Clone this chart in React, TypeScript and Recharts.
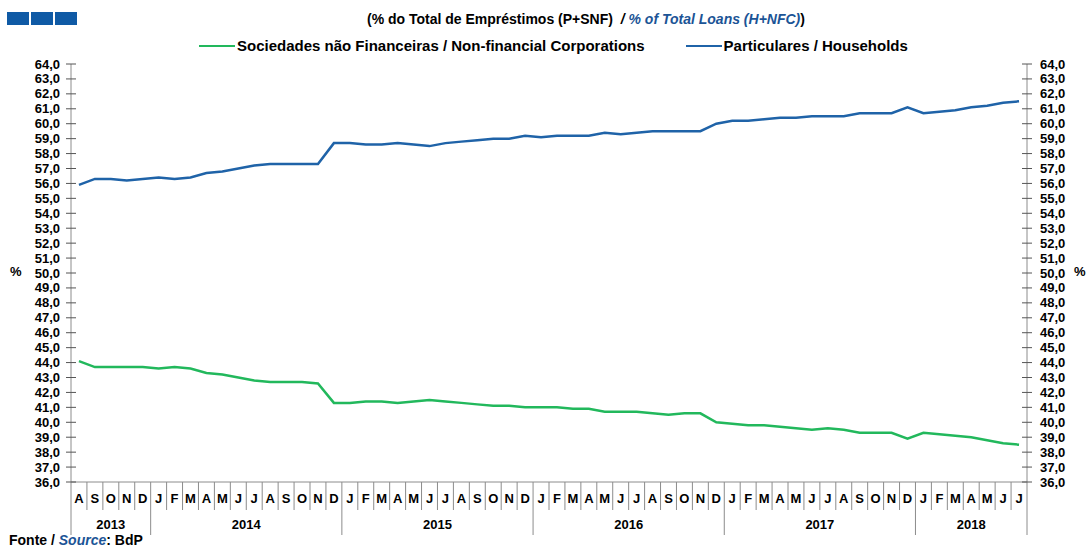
import { Line, LineChart, XAxis, YAxis } from "recharts"

// months on the axis, grouped by calendar year (Aug 2013 – Jul 2018)
const YEARS = ["2013", "2014", "2015", "2016", "2017", "2018"]
const MONTH_INITIALS = ["J", "F", "M", "A", "M", "J", "J", "A", "S", "O", "N", "D"]
const FIRST_MONTH = [7, 0, 0, 0, 0, 0]
const MONTH_COUNT = [5, 12, 12, 12, 12, 7]

// Particulares / Households (% of total loans)
const HOUSEHOLDS = [
  55.9, 56.3, 56.3, 56.2, 56.3,
  56.4, 56.3, 56.4, 56.7, 56.8, 57.0, 57.2, 57.3, 57.3, 57.3, 57.3, 58.7,
  58.7, 58.6, 58.6, 58.7, 58.6, 58.5, 58.7, 58.8, 58.9, 59.0, 59.0, 59.2,
  59.1, 59.2, 59.2, 59.2, 59.4, 59.3, 59.4, 59.5, 59.5, 59.5, 59.5, 60.0,
  60.2, 60.2, 60.3, 60.4, 60.4, 60.5, 60.5, 60.5, 60.7, 60.7, 60.7, 61.1,
  60.7, 60.8, 60.9, 61.1, 61.2, 61.4, 61.5,
]

// Sociedades não Financeiras / Non-financial Corporations
const NFC = [
  44.1, 43.7, 43.7, 43.7, 43.7,
  43.6, 43.7, 43.6, 43.3, 43.2, 43.0, 42.8, 42.7, 42.7, 42.7, 42.6, 41.3,
  41.3, 41.4, 41.4, 41.3, 41.4, 41.5, 41.4, 41.3, 41.2, 41.1, 41.1, 41.0,
  41.0, 41.0, 40.9, 40.9, 40.7, 40.7, 40.7, 40.6, 40.5, 40.6, 40.6, 40.0,
  39.9, 39.8, 39.8, 39.7, 39.6, 39.5, 39.6, 39.5, 39.3, 39.3, 39.3, 38.9,
  39.3, 39.2, 39.1, 39.0, 38.8, 38.6, 38.5,
]

const Y_TICKS = [
  36, 37, 38, 39, 40, 41, 42, 43, 44, 45, 46, 47, 48, 49, 50,
  51, 52, 53, 54, 55, 56, 57, 58, 59, 60, 61, 62, 63, 64,
]

const FONT = "'Liberation Sans', Arial, Helvetica, sans-serif"
const AXIS = "#8c8c8c"
const BLUE = "#1f63a8"
const GREEN = "#22b85c"
const DARK_BLUE = "#1b5496"

type Row = {
  period: string
  month: string
  year: string
  firstOfYear: boolean
  yearLen: number
  households: number
  nfc: number
}

const rows: Row[] = []
YEARS.forEach((year, yi) => {
  for (let k = 0; k < MONTH_COUNT[yi]; k++) {
    const m = FIRST_MONTH[yi] + k
    const i = rows.length
    rows.push({
      period: `${year}-${m + 1}`,
      month: MONTH_INITIALS[m],
      year,
      firstOfYear: k === 0,
      yearLen: MONTH_COUNT[yi],
      households: HOUSEHOLDS[i],
      nfc: NFC[i],
    })
  }
})

const fmt = (v: number) => v.toFixed(1).replace(".", ",")

function LeftTick({ x, y, payload }: any) {
  return (
    <g>
      <line x1={x - 5} x2={x + 5} y1={y} y2={y} stroke="#555" />
      <text x={x - 11} y={y} dy={4.5} textAnchor="end" fontSize={13} fontWeight="bold" fill="#000">
        {fmt(payload.value)}
      </text>
    </g>
  )
}

function RightTick({ x, y, payload }: any) {
  return (
    <g>
      <line x1={x - 5} x2={x + 5} y1={y} y2={y} stroke="#555" />
      <text x={x + 13} y={y} dy={4.5} textAnchor="start" fontSize={13} fontWeight="bold" fill="#000">
        {fmt(payload.value)}
      </text>
    </g>
  )
}

function MonthTick({ x, y, payload, index, width, visibleTicksCount }: any) {
  const half = payload.offset || width / visibleTicksCount / 2
  const row = rows[index]
  const left = x - half
  const last = index === rows.length - 1
  return (
    <g>
      <line x1={left} x2={left} y1={y} y2={row.firstOfYear ? y + 53 : y + 28} stroke={AXIS} />
      {last && <line x1={x + half} x2={x + half} y1={y} y2={y + 53} stroke={AXIS} />}
      <text x={x} y={y + 21} textAnchor="middle" fontSize={13} fontWeight="bold" fill="#000">
        {row.month}
      </text>
      {row.firstOfYear && (
        <text x={left + row.yearLen * half} y={y + 47} textAnchor="middle" fontSize={13} fontWeight="bold" fill="#000">
          {row.year}
        </text>
      )}
    </g>
  )
}

function LegendItem({ color, label }: { color: string; label: string }) {
  return (
    <span style={{ display: "inline-flex", alignItems: "center" }}>
      <span style={{ width: 36, height: 2, background: color, marginRight: 2 }} />
      {label}
    </span>
  )
}

export default function App() {
  return (
    <div style={{ position: "absolute", left: 0, top: 0, width: 1088, height: 549, background: "#fff", fontFamily: FONT }}>
      <div style={{ position: "absolute", left: 7, top: 12, display: "flex", gap: 2 }}>
        <div style={{ width: 22, height: 13, background: "#0f5aa5" }} />
        <div style={{ width: 22, height: 13, background: "#0f5aa5" }} />
        <div style={{ width: 22, height: 13, background: "#0f5aa5" }} />
      </div>
      <div style={{ position: "absolute", left: 367, top: 11, fontSize: 14, fontWeight: "bold", whiteSpace: "pre", color: "#000" }}>
        {"(% do Total de Empréstimos (P+SNF)  "}
        <span style={{ fontStyle: "italic" }}>/ </span>
        <span style={{ fontStyle: "italic", color: DARK_BLUE }}>% of Total Loans (H+NFC)</span>
        )
      </div>
      <div style={{ position: "absolute", left: 199, top: 37, fontSize: 15, fontWeight: "bold", display: "flex", gap: 41, whiteSpace: "pre" }}>
        <LegendItem color={GREEN} label="Sociedades não Financeiras / Non-financial Corporations" />
        <LegendItem color={BLUE} label="Particulares / Households" />
      </div>
      <div style={{ position: "absolute", left: 10, top: 264, fontSize: 13, fontWeight: "bold" }}>%</div>
      <div style={{ position: "absolute", left: 1074, top: 264, fontSize: 13, fontWeight: "bold" }}>%</div>
      <div style={{ position: "absolute", left: 9, top: 532, fontSize: 14, lineHeight: "16px", fontWeight: "bold", whiteSpace: "pre" }}>
        {"Fonte / "}
        <span style={{ fontStyle: "italic", color: DARK_BLUE }}>Source</span>
        {": BdP"}
      </div>
      <LineChart
        width={1088}
        height={549}
        data={rows}
        margin={{ top: 64, right: 0, bottom: 0, left: 0 }}
        style={{ fontFamily: FONT, position: "absolute", left: 0, top: 0 }}
      >
        <XAxis
          dataKey="period"
          scale="band"
          interval={0}
          tickLine={false}
          tickSize={0}
          tickMargin={0}
          height={67}
          stroke={AXIS}
          tick={<MonthTick />}
        />
        <YAxis
          yAxisId="left"
          domain={[36, 64]}
          ticks={Y_TICKS}
          interval={0}
          width={71}
          tickLine={false}
          tickSize={0}
          tickMargin={0}
          stroke={AXIS}
          tick={<LeftTick />}
        />
        <YAxis
          yAxisId="right"
          orientation="right"
          domain={[36, 64]}
          ticks={Y_TICKS}
          interval={0}
          width={61}
          tickLine={false}
          tickSize={0}
          tickMargin={0}
          stroke={AXIS}
          tick={<RightTick />}
        />
        <Line
          yAxisId="left"
          type="linear"
          dataKey="households"
          name="Particulares / Households"
          stroke={BLUE}
          strokeWidth={2.5}
          dot={false}
          isAnimationActive={false}
        />
        <Line
          yAxisId="right"
          type="linear"
          dataKey="nfc"
          name="Sociedades não Financeiras / Non-financial Corporations"
          stroke={GREEN}
          strokeWidth={2.5}
          dot={false}
          isAnimationActive={false}
        />
      </LineChart>
    </div>
  )
}
